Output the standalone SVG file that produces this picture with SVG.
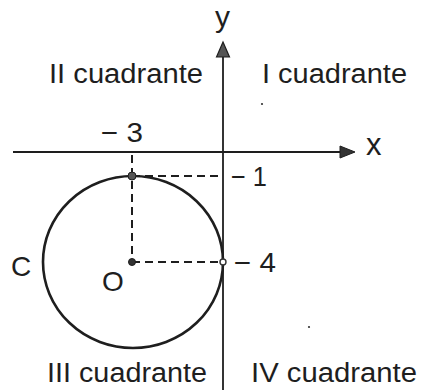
<svg xmlns="http://www.w3.org/2000/svg" width="423" height="390" viewBox="0 0 423 390">
<style>
text{font-family:"Liberation Sans",Arial,sans-serif;fill:#1e1e1e}
.q{font-size:27px}
.n{font-size:27px}
.ax{stroke:#1e1e1e;stroke-width:1.8;fill:none}
.dash{stroke:#1e1e1e;stroke-width:2;stroke-dasharray:8 5;fill:none}
</style>
<rect width="423" height="390" fill="#fff"/>
<g id="connectors">
<line class="ax" x1="13" y1="152" x2="342" y2="152"/>
<polygon points="340,146 355,152 340,158" fill="#333" stroke="#1e1e1e" stroke-width="1"/>
<line class="ax" x1="223" y1="390" x2="223" y2="56"/>
<polygon points="216.5,57 223,42 229.5,57" fill="#555" stroke="#1e1e1e" stroke-width="1.2"/>
<line class="dash" x1="132" y1="176" x2="223" y2="176"/>
<line class="dash" x1="132" y1="155" x2="132" y2="262"/>
<line class="dash" x1="132" y1="262" x2="223" y2="262"/>
</g>
<g id="circle">
<ellipse cx="133" cy="262" rx="90" ry="86" fill="none" stroke="#1e1e1e" stroke-width="2.6"/>
</g>
<g id="points">
<circle cx="132" cy="176" r="4" fill="#555" stroke="#1e1e1e" stroke-width="1"/>
<circle cx="132" cy="262" r="3.5" fill="#333" stroke="#1e1e1e" stroke-width="1"/>
<circle cx="223" cy="262" r="3" fill="#fff" stroke="#333" stroke-width="1.4"/>
<circle cx="262" cy="104" r="1.1" fill="#333"/>
<circle cx="309" cy="327" r="1.1" fill="#333"/>
</g>
<g id="labels">
<text x="215" y="27" style="font-size:30px">y</text>
<text x="366" y="155" style="font-size:31px">x</text>
<text class="q" x="49" y="83" textLength="154" lengthAdjust="spacingAndGlyphs">II cuadrante</text>
<text class="q" x="262" y="83" textLength="145" lengthAdjust="spacingAndGlyphs">I cuadrante</text>
<text class="q" x="47" y="382" textLength="160" lengthAdjust="spacingAndGlyphs">III cuadrante</text>
<text class="q" x="251" y="382" textLength="166" lengthAdjust="spacingAndGlyphs">IV cuadrante</text>
<text class="n" x="101" y="142" textLength="42" lengthAdjust="spacingAndGlyphs">− 3</text>
<text class="n" x="231" y="186" textLength="36" lengthAdjust="spacingAndGlyphs">− 1</text>
<text class="n" x="234" y="272" textLength="42" lengthAdjust="spacingAndGlyphs">− 4</text>
<text style="font-size:28px" x="11" y="276">C</text>
<text style="font-size:28px" x="102" y="291">O</text>
</g>
</svg>
